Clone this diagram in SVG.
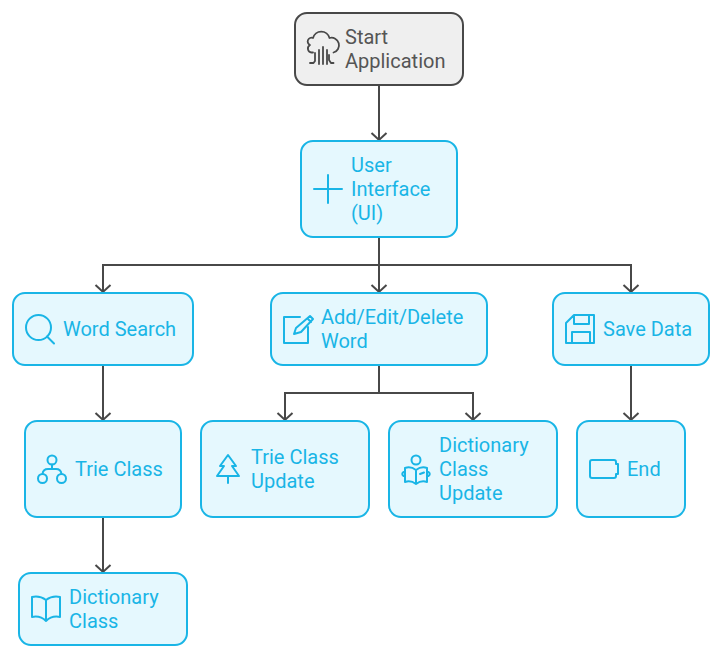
<svg xmlns="http://www.w3.org/2000/svg" width="722" height="659" viewBox="0 0 722 659">
<defs>
<style>
.n{fill:#e5f8fe;stroke:#19b5e6;stroke-width:2}
.s{fill:#efefef;stroke:#484848;stroke-width:2}
text{font-family:Roboto,"Liberation Sans",sans-serif;font-size:20px;fill:#19b5e6}
.st{fill:#555555}
.i{fill:none;stroke:#19b5e6;stroke-width:2;stroke-linecap:round;stroke-linejoin:round}
.si{fill:none;stroke:#484848;stroke-width:1.800;stroke-linecap:round;stroke-linejoin:round}
.c{fill:none;stroke:#484848;stroke-width:2}
</style>
<marker id="a" markerUnits="userSpaceOnUse" markerWidth="20" markerHeight="20" refX="15" refY="10" orient="auto">
<path d="M8 2.500 L15 10 L8 17.500" fill="none" stroke="#484848" stroke-width="2"/>
</marker>
</defs>
<rect width="722" height="659" fill="#ffffff"/>
<g id="connectors">
<path class="c" marker-end="url(#a)" d="M379 85V140"/>
<path class="c" marker-end="url(#a)" d="M379 237V292"/>
<path class="c" marker-end="url(#a)" d="M379 265H103V292"/>
<path class="c" marker-end="url(#a)" d="M379 265H631V292"/>
<path class="c" marker-end="url(#a)" d="M103 365V420"/>
<path class="c" marker-end="url(#a)" d="M103 517V572"/>
<path class="c" marker-end="url(#a)" d="M379 365V393H285V420"/>
<path class="c" marker-end="url(#a)" d="M379 393H473V420"/>
<path class="c" marker-end="url(#a)" d="M631 365V420"/>
</g>
<g id="start">
<rect class="s" x="295" y="13" width="168" height="72" rx="12"/>
<path class="si" d="M313 52.500h-1.500a4 4 0 0 1-1.500-7.500a3.500 3.500 0 0 1 3-7a8.500 8.500 0 0 1 16.500 0a7.500 7.500 0 0 1 4 14.500"/>
<path class="si" d="M310 63h3.500l1.500-2V53M319 64V50M323 64V47M327 64V50M331 63h2.500M331 63L329 60V55"/>
<text class="st" x="345" y="44">Start</text>
<text class="st" x="345" y="68">Application</text>
</g>
<g id="ui">
<rect class="n" x="301" y="141" width="156" height="96" rx="12"/>
<path class="i" d="M328 175V203M314 189H342"/>
<text x="351" y="172">User</text>
<text x="351" y="196">Interface</text>
<text x="351" y="220">(UI)</text>
</g>
<g id="word-search">
<rect class="n" x="13" y="293" width="180" height="72" rx="12"/>
<circle class="i" cx="38.500" cy="327.500" r="12.500"/>
<path class="i" d="M47 336.500L54 343.500"/>
<text x="63" y="336">Word Search</text>
</g>
<g id="add-edit-delete">
<rect class="n" x="271" y="293" width="216" height="72" rx="12"/>
<path class="i" d="M300 317H284V343H308V327"/>
<path class="i" d="M310 316L313 319L301 332L294 334L296 328ZM308 319L311 322"/>
<text x="321" y="324">Add/Edit/Delete</text>
<text x="321" y="348">Word</text>
</g>
<g id="save-data">
<rect class="n" x="553" y="293" width="156" height="72" rx="12"/>
<path class="i" d="M574 315H594V343H566V323ZM574 315V324H589V315M572 343V332H590V343"/>
<text x="603" y="336">Save Data</text>
</g>
<g id="trie-class">
<rect class="n" x="25" y="421" width="156" height="96" rx="12"/>
<circle class="i" cx="52" cy="460" r="4.500"/>
<circle class="i" cx="42.500" cy="478.500" r="4.500"/>
<circle class="i" cx="61.500" cy="478.500" r="4.500"/>
<path class="i" d="M52 464.500V468M42.500 474C43 470 46 469 48 469H56C58 469 61 470 61.500 474"/>
<text x="75" y="476">Trie Class</text>
</g>
<g id="trie-class-update">
<rect class="n" x="201" y="421" width="168" height="96" rx="12"/>
<path class="i" d="M228 455L236 466H232L239 476H217L224 466H220ZM228 476V483"/>
<text x="251" y="464">Trie Class</text>
<text x="251" y="488">Update</text>
</g>
<g id="dictionary-class-update">
<rect class="n" x="389" y="421" width="168" height="96" rx="12"/>
<circle class="i" cx="416" cy="460" r="4.500"/>
<path class="i" d="M416 470C412 467 408 467 405 468V482C408 481 412 481 416 484C420 481 424 481 427 482V468C424 467 420 467 416 470ZM416 470V484M405 472H403.500Q401 474 403.500 476H405M427 472H428.500Q431 474 428.500 476H427M420 474L424 472.500"/>
<text x="439" y="452">Dictionary</text>
<text x="439" y="476">Class</text>
<text x="439" y="500">Update</text>
</g>
<g id="end">
<rect class="n" x="577" y="421" width="108" height="96" rx="12"/>
<path class="i" d="M592 460H614Q616 460 616 462V464H618V474H616V476Q616 478 614 478H592Q590 478 590 476V462Q590 460 592 460Z"/>
<text x="627" y="476">End</text>
</g>
<g id="dictionary-class">
<rect class="n" x="19" y="573" width="168" height="72" rx="12"/>
<path class="i" d="M46 600C42 597 37 596 32 597V617C37 616 42 617 46 621C50 617 55 616 60 617V597C55 596 50 597 46 600ZM46 600V621"/>
<text x="69" y="604">Dictionary</text>
<text x="69" y="628">Class</text>
</g>
</svg>
